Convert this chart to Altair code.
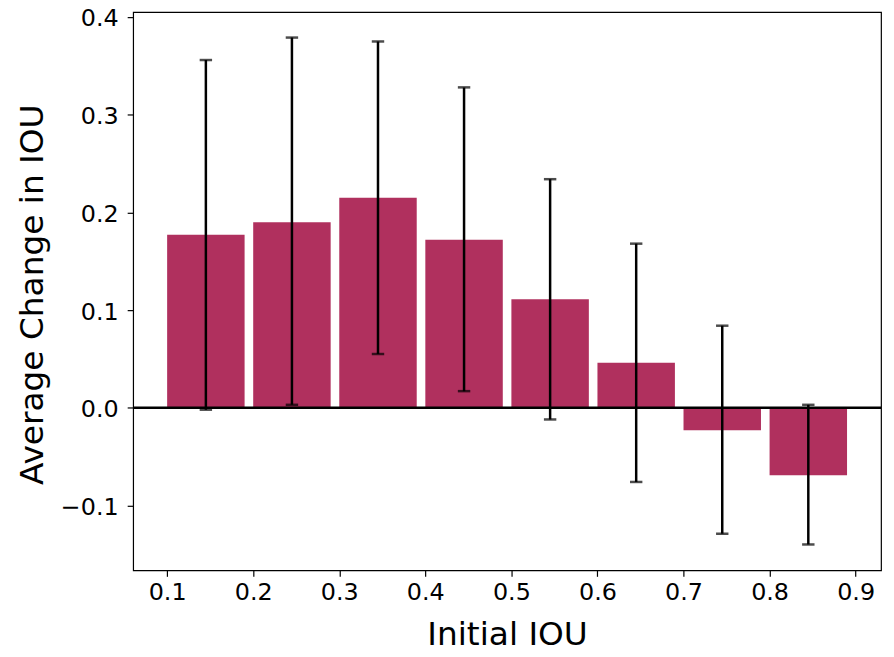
import altair as alt
import pandas as pd

bin_lo = [0.1, 0.2, 0.3, 0.4, 0.5, 0.6, 0.7, 0.8]
bin_hi = [0.19, 0.29, 0.39, 0.49, 0.59, 0.69, 0.79, 0.89]
centers = [0.145, 0.245, 0.345, 0.445, 0.545, 0.645, 0.745, 0.845]
means = [0.177, 0.190, 0.215, 0.172, 0.111, 0.046, -0.023, -0.069]
err_hi = [0.356, 0.379, 0.375, 0.328, 0.234, 0.168, 0.084, 0.003]
err_lo = [-0.002, 0.003, 0.055, 0.017, -0.012, -0.076, -0.129, -0.140]
x_ticks = [0.1, 0.2, 0.3, 0.4, 0.5, 0.6, 0.7, 0.8, 0.9]
y_ticks = [-0.1, 0.0, 0.1, 0.2, 0.3, 0.4]

df = pd.DataFrame({"lo": bin_lo, "hi": bin_hi, "c": centers, "m": means,
                   "eh": err_hi, "el": err_lo})

xs = alt.Scale(domain=[0.0605, 0.9295], nice=False, zero=False)
ys = alt.Scale(domain=[-0.1665, 0.405], nice=False, zero=False)

font = "DejaVu Sans"
W, H = 753, 562
xaxis = alt.Axis(values=x_ticks, format=".1f", title="Initial IOU", grid=False,
                 labelFontSize=24, titleFontSize=33, labelFont=font, titleFont=font,
                 labelColor="black", titleColor="black", tickColor="black",
                 tickSize=6, tickWidth=1.2, labelPadding=4, domain=False,
                 titleFontWeight="normal", titleBaseline="alphabetic",
                 titleX=W / 2, titleY=75, titleAnchor="middle")
yaxis = alt.Axis(values=y_ticks, format=".1f", title="Average Change in IOU", grid=False,
                 labelFontSize=24, titleFontSize=33, labelFont=font, titleFont=font,
                 labelColor="black", titleColor="black", tickColor="black",
                 tickSize=6, tickWidth=1.2, labelPadding=9, labelOffset=2, domain=False,
                 titleFontWeight="normal", titleBaseline="alphabetic", titleAngle=270,
                 titleX=-91, titleY=284, titleAnchor="middle")

base = alt.Chart(df)

bars = base.mark_rect(color="#B0305E").encode(
    x=alt.X("lo:Q", scale=xs, axis=xaxis),
    x2="hi:Q",
    y=alt.Y("m:Q", scale=ys, axis=yaxis),
    y2=alt.datum(0),
)

zero = alt.Chart(pd.DataFrame({"z": [0.0]})).mark_rule(color="black", strokeWidth=2.5).encode(
    y=alt.Y("z:Q", scale=ys)
)

err = base.mark_rule(color="black", strokeWidth=2.5).encode(
    x=alt.X("c:Q", scale=xs), y=alt.Y("el:Q", scale=ys), y2="eh:Q"
)
cap_hi = base.mark_tick(color="black", orient="horizontal", size=12.5, thickness=2.5).encode(
    x=alt.X("c:Q", scale=xs), y=alt.Y("eh:Q", scale=ys)
)
cap_lo = base.mark_tick(color="black", orient="horizontal", size=12.5, thickness=2.5).encode(
    x=alt.X("c:Q", scale=xs), y=alt.Y("el:Q", scale=ys)
)

chart = alt.layer(bars, zero, err, cap_hi, cap_lo).properties(
    width=W, height=H,
    autosize=alt.AutoSizeParams(type="none"),
    padding={"left": 126, "top": 2, "right": 5, "bottom": 80},
    background="white",
).configure_view(stroke="black", strokeWidth=1.2)

chart.save("out.html", embed_options={"renderer": "svg", "actions": False})
